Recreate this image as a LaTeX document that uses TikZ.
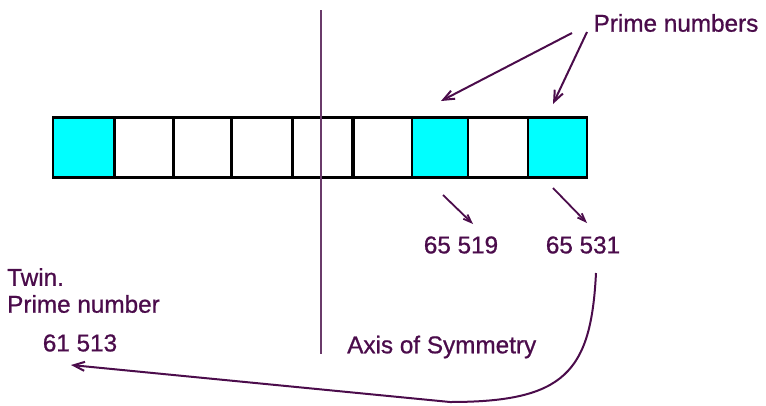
\documentclass[tikz,border=0pt]{standalone}
\usepackage{fontspec}
\setmainfont{Liberation Sans}
\newfontfamily\lblfont[FakeBold=0.8]{Liberation Sans}
\usetikzlibrary{arrows.meta}
\definecolor{plum}{HTML}{4B0C4B}
\definecolor{axis}{HTML}{6A3A6A}
\definecolor{aqua}{HTML}{00FFFF}
\begin{document}
\begin{tikzpicture}[x=1pt,y=-1pt,
  cell/.style={draw=black,line width=2.6pt,minimum height=60pt,inner sep=0pt,outer sep=0pt},
  prime/.style={cell,fill=aqua},
  lbl/.style={text=plum,font=\lblfont\fontsize{24.3}{27}\selectfont,inner sep=0pt},
  arr/.style={draw=plum,line width=2pt,-{Straight Barb[length=11pt,width=9pt,line width=2pt]}},
  smallarr/.style={draw=plum,line width=1.8pt,-{Straight Barb[length=8pt,width=6pt,line width=1.8pt]}}]
\useasboundingbox (0,0) rectangle (766,405);
% cells
\node[prime,minimum width=61pt] (c1) at (83.5,147.5) {};
\node[cell,minimum width=59pt] (c2) at (144,147.5) {};
\node[cell,minimum width=58pt] (c3) at (202.5,147.5) {};
\node[cell,minimum width=61pt] (c4) at (262,147.5) {};
\node[cell,minimum width=60pt] (c5) at (322.5,147.5) {};
\node[cell,minimum width=58pt] (c6) at (383,147.5) {};
\node[prime,minimum width=56pt] (c7) at (440,147.5) {};
\node[cell,minimum width=60pt] (c8) at (498,147.5) {};
\node[prime,minimum width=59pt] (c9) at (557.5,147.5) {};
% axis of symmetry
\coordinate (axtop) at (321,10);
\coordinate (axbot) at (321,354);
\draw[axis,line width=1.6pt] (axtop) -- (axbot);
% labels
\node[lbl] (pn) at (676,23) {Prime numbers};
\node[lbl,anchor=west] (twin) at (7,277) {Twin.};
\node[lbl,anchor=west] (tpn) at (7,304) {Prime number};
\node[lbl] (n61513) at (80,343) {61 513};
\node[lbl,anchor=west] (aos) at (347,347) {Axis of Symmetry};
\node[lbl] (n65519) at (461,245) {65 519};
\node[lbl] (n65531) at (583,245) {65 531};
% arrows from "Prime numbers"
\coordinate (p1s) at (572,33);
\coordinate (p1e) at (441,101);
\coordinate (p2s) at (587,32);
\coordinate (p2e) at (553,104);
\draw[arr] (p1s) -- (p1e);
\draw[arr] (p2s) -- (p2e);
% small arrows to the numbers
\coordinate (s1s) at (443,195);
\coordinate (s1e) at (473,224);
\coordinate (s2s) at (553,188);
\coordinate (s2e) at (587,223);
\draw[smallarr] (s1s) -- (s1e);
\draw[smallarr] (s2s) -- (s2e);
% twin arrow
\coordinate (tws) at (596,273);
\coordinate (twe) at (71,365);
\draw[arr] (tws) .. controls (591,372) and (565,402) .. (450,402) -- (twe);
\end{tikzpicture}
\end{document}
